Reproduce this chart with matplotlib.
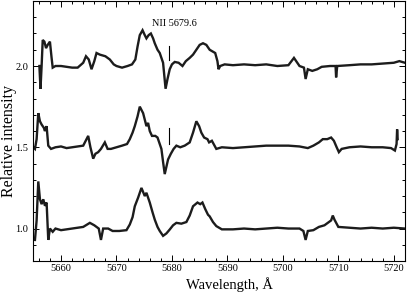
import matplotlib
matplotlib.use("Agg")
import matplotlib.pyplot as plt
from matplotlib.ticker import MultipleLocator, FormatStrFormatter

# ---- data ----
top_wl = [5656.1, 5656.3, 5656.5, 5656.7, 5657.0, 5657.3, 5657.6, 5658.0, 5658.3, 5658.5,
          5659.0, 5660.0, 5661.0, 5662.0, 5663.0, 5664.0, 5664.5, 5665.0, 5665.5, 5666.0,
          5666.4, 5667.0, 5668.0, 5668.8, 5669.5, 5670.0, 5671.0, 5672.0, 5672.8, 5673.4,
          5673.8, 5674.2, 5674.7, 5675.1, 5675.4, 5675.8, 5676.2, 5676.6, 5676.9, 5677.4,
          5677.8, 5678.1, 5678.4, 5678.85, 5679.2, 5679.6, 5680.0, 5680.5, 5681.2, 5681.9,
          5682.5, 5683.2, 5683.8, 5684.4, 5685.0, 5685.6, 5686.2, 5686.8, 5687.3, 5687.8,
          5688.2, 5688.4, 5688.7, 5689.5, 5691.0, 5693.0, 5695.0, 5697.0, 5699.0, 5701.0,
          5702.0, 5703.0, 5703.8, 5704.1, 5704.5, 5705.3, 5706.2, 5707.0, 5708.5, 5709.5,
          5709.6, 5709.8, 5712.0, 5714.0, 5716.0, 5718.0, 5720.0, 5721.0, 5722.0]
top_int = [2.00, 1.86, 2.00, 2.16, 2.15, 2.11, 2.13, 2.15, 2.05, 1.99,
           2.00, 2.00, 1.995, 1.99, 1.99, 2.02, 2.06, 2.04, 1.98, 2.03,
           2.08, 2.07, 2.06, 2.04, 2.01, 2.00, 1.99, 2.00, 2.01, 2.04,
           2.12, 2.19, 2.22, 2.19, 2.17, 2.19, 2.20, 2.17, 2.14, 2.10,
           2.08, 2.05, 2.02, 1.86, 1.92, 1.98, 2.01, 2.025, 2.02, 2.00,
           2.03, 2.05, 2.07, 2.10, 2.13, 2.14, 2.13, 2.10, 2.09, 2.08,
           2.03, 1.98, 2.00, 2.01, 2.005, 2.01, 2.005, 2.01, 2.00, 2.005,
           2.05, 2.00, 1.99, 1.92, 1.98, 1.97, 1.98, 1.995, 2.00, 2.00,
           1.93, 2.00, 2.005, 2.01, 2.01, 2.015, 2.02, 2.03, 2.02]

mid_wl = [5655.0, 5655.3, 5655.6, 5655.9, 5656.2, 5656.5, 5656.9, 5657.1, 5657.4, 5657.7,
          5658.2, 5659.0, 5660.0, 5661.0, 5662.0, 5663.0, 5664.0, 5664.9, 5665.3, 5665.8,
          5666.2, 5666.7, 5667.2, 5667.9, 5668.4, 5669.0, 5670.0, 5671.0, 5671.9, 5672.4,
          5672.9, 5673.3, 5673.8, 5674.2, 5674.5, 5674.8, 5675.1, 5675.4, 5675.7, 5676.0,
          5676.4, 5677.0, 5677.4, 5677.8, 5678.1, 5678.4, 5678.7, 5679.0, 5679.3, 5679.8,
          5680.3, 5680.8, 5681.5, 5682.3, 5683.2, 5683.8, 5684.4, 5684.9, 5685.3, 5685.8,
          5686.4, 5686.7, 5687.2, 5688.0, 5689.0, 5691.0, 5693.0, 5695.0, 5697.0, 5699.0,
          5701.0, 5703.0, 5704.5, 5705.5, 5706.5, 5707.2, 5708.0, 5708.7, 5709.2, 5709.7,
          5710.1, 5710.6, 5712.0, 5714.0, 5716.0, 5718.0, 5719.5, 5720.2, 5720.5, 5720.6,
          5720.7]
mid_int = [1.50, 1.49, 1.55, 1.71, 1.66, 1.64, 1.62, 1.60, 1.63, 1.51,
           1.49, 1.50, 1.505, 1.495, 1.50, 1.505, 1.51, 1.57, 1.50, 1.43,
           1.46, 1.47, 1.49, 1.53, 1.49, 1.49, 1.50, 1.51, 1.52, 1.55,
           1.59, 1.63, 1.69, 1.75, 1.73, 1.71, 1.67, 1.63, 1.65, 1.60,
           1.57, 1.57, 1.56, 1.52, 1.49, 1.41, 1.335, 1.38, 1.425, 1.46,
           1.49, 1.51, 1.50, 1.51, 1.53, 1.59, 1.66, 1.63, 1.59, 1.56,
           1.55, 1.53, 1.54, 1.49, 1.50, 1.495, 1.50, 1.505, 1.51, 1.51,
           1.51, 1.505, 1.495, 1.51, 1.53, 1.55, 1.55, 1.56, 1.54, 1.50,
           1.47, 1.49, 1.50, 1.505, 1.50, 1.50, 1.495, 1.48, 1.52, 1.61,
           1.55]

bot_wl = [5655.3, 5655.6, 5655.9, 5656.2, 5656.5, 5656.8, 5657.1, 5657.4, 5657.7, 5658.0,
          5658.5, 5659.0, 5660.0, 5661.0, 5662.0, 5663.0, 5664.0, 5665.2, 5666.0, 5666.8,
          5667.2, 5667.6, 5668.5, 5669.3, 5670.5, 5671.8, 5672.4, 5672.9, 5673.3, 5673.9,
          5674.5, 5675.1, 5675.4, 5676.0, 5676.5, 5676.9, 5677.4, 5677.8, 5678.4, 5679.0,
          5679.6, 5680.2, 5680.8, 5681.7, 5682.6, 5683.2, 5683.8, 5684.6, 5685.1, 5685.5,
          5686.0, 5686.5, 5686.8, 5687.4, 5688.0, 5689.0, 5691.0, 5693.0, 5695.0, 5697.0,
          5699.0, 5701.0, 5703.0, 5703.7, 5704.1, 5704.5, 5705.5, 5706.5, 5707.5, 5708.7,
          5709.0, 5709.3, 5710.0, 5712.0, 5714.0, 5716.0, 5718.0, 5720.0, 5722.0]
bot_int = [0.93, 1.05, 1.29, 1.18, 1.15, 1.18, 1.14, 1.16, 0.93, 1.00,
           0.98, 1.00, 0.99, 0.995, 1.00, 1.005, 1.01, 1.035, 1.02, 1.00,
           0.93, 1.00, 1.00, 0.985, 0.985, 0.99, 1.025, 1.07, 1.137, 1.19,
           1.25, 1.20, 1.22, 1.16, 1.10, 1.055, 1.01, 0.985, 0.955, 0.97,
           0.994, 1.02, 1.035, 1.03, 1.04, 1.08, 1.137, 1.16, 1.15, 1.16,
           1.12, 1.085, 1.075, 1.04, 1.015, 0.995, 0.995, 1.00, 0.995, 1.00,
           1.005, 1.00, 1.00, 0.985, 0.93, 0.985, 0.99, 1.01, 1.02, 1.05,
           1.08, 1.055, 1.01, 1.005, 1.00, 1.005, 1.00, 1.005, 1.00]

line_label = "NII 5679.6"
line_wl = 5679.5
marker_top = [2.04, 2.125]
marker_mid = [1.52, 1.62]

plt.rcParams['font.family'] = ['Liberation Serif', 'DejaVu Serif']

fig = plt.figure(figsize=(4.07, 2.92), dpi=100)
ax = fig.add_axes([0.0818, 0.106, 0.913, 0.8906])

for wl, it in [(top_wl, top_int), (mid_wl, mid_int), (bot_wl, bot_int)]:
    ax.plot(wl, it, color='#1c1c1c', lw=1.7, solid_joinstyle='miter')

ax.plot([line_wl, line_wl], marker_top, color='black', lw=0.8)
ax.plot([line_wl, line_wl], marker_mid, color='black', lw=0.8)
ax.text(5680.4, 2.26, line_label, ha='center', va='center', fontsize=7.4)

ax.set_xlim(5655, 5722)
ax.set_ylim(0.8, 2.4)
ax.xaxis.set_major_locator(MultipleLocator(10))
ax.xaxis.set_minor_locator(MultipleLocator(2))
ax.yaxis.set_major_locator(MultipleLocator(0.5))
ax.yaxis.set_minor_locator(MultipleLocator(0.1))
ax.tick_params(which='both', direction='in', top=True, right=True, labelsize=7.5, width=0.7)
ax.tick_params(which='major', length=4.5)
ax.tick_params(which='minor', length=2.5)
ax.tick_params(axis='x', which='major', pad=2)
ax.tick_params(axis='y', which='major', pad=3.5)
ax.yaxis.set_major_formatter(FormatStrFormatter('%.1f'))
for s in ax.spines.values():
    s.set_linewidth(0.8)

ax.set_xlabel("Wavelength, Å", fontsize=10.5, va='center')
ax.xaxis.set_label_coords(0.528, -0.089)
ax.set_ylabel("Relative intensity", fontsize=11.5, va='center')
ax.yaxis.set_label_coords(-0.066, 0.46)

fig.savefig("out.png", dpi=100)
